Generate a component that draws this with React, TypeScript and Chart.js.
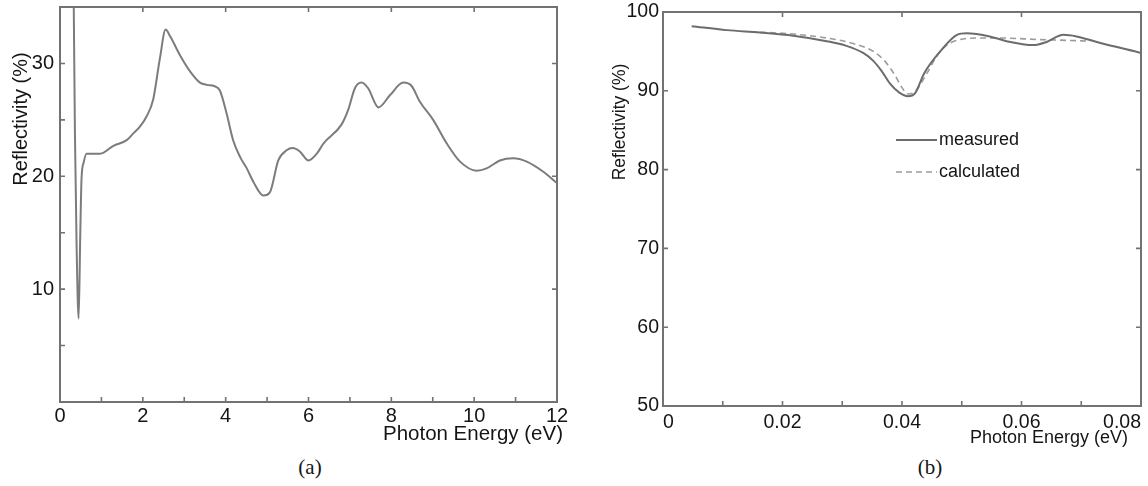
import React, { useEffect, useRef } from 'react';
import { Chart, registerables } from 'chart.js';

Chart.register(...registerables);

// ---------- Panel (a) data ----------
const aEnergy = [
  0.33, 0.36, 0.40, 0.45, 0.49, 0.52, 0.57, 0.64, 0.97, 1.29, 1.61, 1.77, 1.93, 2.09, 2.25,
  2.41, 2.55, 2.66, 2.90, 3.14, 3.38, 3.55, 3.72, 3.86, 4.02, 4.18, 4.35, 4.51, 4.67, 4.91,
  5.07, 5.27, 5.47, 5.62, 5.79, 6.00, 6.20, 6.36, 6.80, 6.96, 7.12, 7.28, 7.44, 7.69, 7.97,
  8.29, 8.49, 8.69, 9.01, 9.34, 9.66, 10.06, 10.30, 10.62, 10.94, 11.27, 11.67, 12.0,
];
const aReflectivity = [
  36.0, 24.0, 14.0, 7.4, 15.0, 19.8, 21.2, 22.0, 22.0, 22.7, 23.2, 23.8, 24.4, 25.3, 26.8,
  30.4, 33.0, 32.4, 30.7, 29.3, 28.3, 28.1, 28.0, 27.6, 25.6, 23.2, 21.7, 20.7, 19.5, 18.3,
  18.6, 21.4, 22.3, 22.5, 22.2, 21.4, 22.0, 22.9, 24.6, 25.9, 27.8, 28.3, 27.8, 26.1, 27.2,
  28.3, 28.0, 26.6, 25.0, 22.9, 21.3, 20.5, 20.7, 21.4, 21.6, 21.3, 20.4, 19.4,
];
const aXTickLabels = [0, 2, 4, 6, 8, 10, 12];
const aYTickLabels = [10, 20, 30];

// ---------- Panel (b) data ----------
const bEnergyMeasured = [
  0.0048, 0.0107, 0.0162, 0.0218, 0.0274, 0.0307, 0.0335, 0.0352, 0.0366, 0.0380, 0.0395,
  0.0410, 0.0422, 0.0437, 0.0464, 0.0492, 0.0508, 0.0547, 0.0575, 0.0620, 0.0642, 0.0670,
  0.0692, 0.0726, 0.0800,
];
const bMeasured = [
  98.2, 97.7, 97.4, 97.0, 96.3, 95.7, 94.8, 93.8, 92.5, 90.9, 89.8,
  89.3, 89.7, 92.2, 95.0, 97.1, 97.3, 96.9, 96.3, 95.8, 96.2, 97.1,
  96.9, 96.2, 94.8,
];
const bEnergyCalculated = [
  0.0146, 0.0218, 0.0274, 0.0318, 0.0352, 0.0372, 0.0388, 0.0400, 0.0410, 0.0422, 0.0440,
  0.0460, 0.0475, 0.0492, 0.0525, 0.0564, 0.0631, 0.0676, 0.0715,
];
const bCalculated = [
  97.5, 97.2, 96.7, 96.0, 95.0, 93.7, 92.0, 90.4, 89.6, 89.9, 92.0,
  94.6, 95.8, 96.4, 96.7, 96.7, 96.5, 96.4, 96.3,
];
const bXTickLabels = [0, 0.02, 0.04, 0.06, 0.08];
const bYTickLabels = [50, 60, 70, 80, 90, 100];
const bSeriesNames = ['measured', 'calculated'];

const SANS = "'Liberation Sans', Arial, sans-serif";
const AXIS = '#727272';

const findLabel = (list: number[], v: number) => {
  const hit = list.find((t) => Math.abs(t - v) < 1e-7);
  return hit === undefined ? '' : String(hit);
};

const framePlugin = {
  id: 'frame',
  afterDraw(chart: any, _args: any, opts: any) {
    const { ctx, chartArea: ca, scales } = chart;
    const xs = scales.x;
    const ys = scales.y;
    const L = opts.tickLen;
    ctx.save();
    ctx.strokeStyle = AXIS;
    ctx.lineWidth = 2;
    ctx.strokeRect(ca.left, ca.top, ca.right - ca.left, ca.bottom - ca.top);
    ctx.lineWidth = 1.6;
    ctx.beginPath();
    xs.ticks.forEach((t: any) => {
      const p = xs.getPixelForValue(t.value);
      if (p <= ca.left + 1 || p >= ca.right - 1) return;
      ctx.moveTo(p, ca.bottom);
      ctx.lineTo(p, ca.bottom - L);
      if (t.label !== '') {
        ctx.moveTo(p, ca.top);
        ctx.lineTo(p, ca.top + L);
      }
    });
    ys.ticks.forEach((t: any) => {
      const p = ys.getPixelForValue(t.value);
      if (p <= ca.top + 1 || p >= ca.bottom - 1) return;
      ctx.moveTo(ca.left, p);
      ctx.lineTo(ca.left + L, p);
      if (t.label !== '') {
        ctx.moveTo(ca.right, p);
        ctx.lineTo(ca.right - L, p);
      }
    });
    ctx.stroke();

    // axis titles
    ctx.fillStyle = '#151515';
    const xt = opts.xTitle;
    ctx.font = `${xt.size}px ${SANS}`;
    ctx.textAlign = 'right';
    ctx.textBaseline = 'alphabetic';
    ctx.fillText(xt.text, xt.x, xt.y);
    const yt = opts.yTitle;
    ctx.translate(yt.x, yt.y);
    ctx.rotate(-Math.PI / 2);
    ctx.font = `${yt.size}px ${SANS}`;
    ctx.textAlign = 'center';
    ctx.fillText(yt.text, 0, 0);
    ctx.restore();

    // in-plot legend
    const lg = opts.legend;
    if (lg) {
      ctx.save();
      chart.data.datasets.forEach((ds: any, i: number) => {
        const y = lg.y + i * lg.gap;
        ctx.strokeStyle = ds.borderColor;
        ctx.lineWidth = ds.borderWidth;
        ctx.setLineDash(ds.borderDash || []);
        ctx.beginPath();
        ctx.moveTo(lg.x, y);
        ctx.lineTo(lg.x + lg.len, y);
        ctx.stroke();
        ctx.setLineDash([]);
        ctx.fillStyle = '#151515';
        ctx.font = `${lg.size}px ${SANS}`;
        ctx.textAlign = 'left';
        ctx.textBaseline = 'middle';
        ctx.fillText(ds.label, lg.x + lg.len + 2, y);
      });
      ctx.restore();
    }
  },
};

function useChart(ref: React.RefObject<HTMLCanvasElement>, build: () => any) {
  useEffect(() => {
    if (!ref.current) return;
    const chart = new Chart(ref.current, build());
    return () => chart.destroy();
  }, []);
}

export default function App() {
  const refA = useRef<HTMLCanvasElement>(null);
  const refB = useRef<HTMLCanvasElement>(null);

  useChart(refA, () => ({
    type: 'line',
    data: {
      datasets: [
        {
          label: 'Reflectivity',
          data: aEnergy.map((x, i) => ({ x, y: aReflectivity[i] })),
          borderColor: '#7c7c7c',
          borderWidth: 2,
          pointRadius: 0,
          cubicInterpolationMode: 'monotone',
          fill: false,
        },
      ],
    },
    options: {
      animation: false,
      responsive: false,
      layout: { padding: { top: 7, right: 23, left: 0, bottom: 0 } },
      plugins: {
        legend: { display: false },
        tooltip: { enabled: false },
        frame: {
          tickLen: 5,
          xTitle: { text: 'Photon Energy (eV)', size: 20.5, x: 563, y: 440 },
          yTitle: { text: 'Reflectivity (%)', size: 20, x: 27, y: 119 },
        },
      },
      scales: {
        x: {
          type: 'linear',
          min: 0,
          max: 12,
          grid: { display: false, drawTicks: false },
          border: { display: false },
          ticks: {
            stepSize: 1,
            autoSkip: false,
            maxRotation: 0,
            padding: 2,
            color: '#151515',
            font: { size: 20, family: SANS },
            callback: (v: number) => findLabel(aXTickLabels, v),
          },
          afterFit: (s: any) => {
            s.height = 48;
            s.paddingLeft = 0;
            s.paddingRight = 0;
          },
        },
        y: {
          min: 0,
          max: 35,
          grid: { display: false, drawTicks: false },
          border: { display: false },
          ticks: {
            stepSize: 5,
            autoSkip: false,
            padding: 6,
            color: '#151515',
            font: { size: 20, family: SANS },
            callback: (v: number) => findLabel(aYTickLabels, v),
          },
          afterFit: (s: any) => {
            s.width = 60;
            s.paddingTop = 0;
            s.paddingBottom = 0;
          },
        },
      },
    },
    plugins: [framePlugin],
  }));

  useChart(refB, () => ({
    type: 'line',
    data: {
      datasets: [
        {
          label: bSeriesNames[0],
          data: bEnergyMeasured.map((x, i) => ({ x, y: bMeasured[i] })),
          borderColor: '#6c6c6c',
          borderWidth: 2,
          pointRadius: 0,
          cubicInterpolationMode: 'monotone',
          fill: false,
        },
        {
          label: bSeriesNames[1],
          data: bEnergyCalculated.map((x, i) => ({ x, y: bCalculated[i] })),
          borderColor: '#9c9c9c',
          borderWidth: 1.6,
          borderDash: [6, 4],
          pointRadius: 0,
          cubicInterpolationMode: 'monotone',
          fill: false,
        },
      ],
    },
    options: {
      animation: false,
      responsive: false,
      layout: { padding: { top: 12, right: 7, left: 0, bottom: 0 } },
      plugins: {
        legend: { display: false },
        tooltip: { enabled: false },
        frame: {
          tickLen: 5,
          xTitle: { text: 'Photon Energy (eV)', size: 18, x: 548, y: 443 },
          yTitle: { text: 'Reflectivity (%)', size: 17.5, x: 45, y: 122 },
          legend: { x: 316, y: 140, gap: 32, len: 41, size: 18 },
        },
      },
      scales: {
        x: {
          type: 'linear',
          min: 0,
          max: 0.08,
          grid: { display: false, drawTicks: false },
          border: { display: false },
          ticks: {
            stepSize: 0.01,
            autoSkip: false,
            maxRotation: 0,
            align: 'inner',
            padding: 5,
            color: '#151515',
            font: { size: 19.5, family: SANS },
            callback: (v: number) => findLabel(bXTickLabels, v),
          },
          afterFit: (s: any) => {
            s.height = 44;
            s.paddingLeft = 0;
            s.paddingRight = 0;
          },
        },
        y: {
          min: 50,
          max: 100,
          grid: { display: false, drawTicks: false },
          border: { display: false },
          ticks: {
            stepSize: 10,
            autoSkip: false,
            padding: 4,
            color: '#151515',
            font: { size: 19.5, family: SANS },
            callback: (v: number) => findLabel(bYTickLabels, v),
          },
          afterFit: (s: any) => {
            s.width = 83;
            s.paddingTop = 0;
            s.paddingBottom = 0;
          },
        },
      },
    },
    plugins: [framePlugin],
  }));

  const caption: React.CSSProperties = {
    position: 'absolute',
    top: 455,
    width: 60,
    textAlign: 'center',
    fontFamily: "'Liberation Serif', 'Times New Roman', serif",
    fontSize: 21,
    lineHeight: '24px',
    color: '#151515',
  };

  return (
    <div
      style={{
        position: 'absolute',
        left: 0,
        top: 0,
        width: 1148,
        height: 486,
        background: '#ffffff',
        overflow: 'hidden',
      }}
    >
      <canvas
        ref={refA}
        width={580}
        height={450}
        style={{ position: 'absolute', left: 0, top: 0, width: 580, height: 450 }}
      />
      <canvas
        ref={refB}
        width={568}
        height={450}
        style={{ position: 'absolute', left: 580, top: 0, width: 568, height: 450 }}
      />
      <div style={{ ...caption, left: 280 }}>(a)</div>
      <div style={{ ...caption, left: 900 }}>(b)</div>
    </div>
  );
}
